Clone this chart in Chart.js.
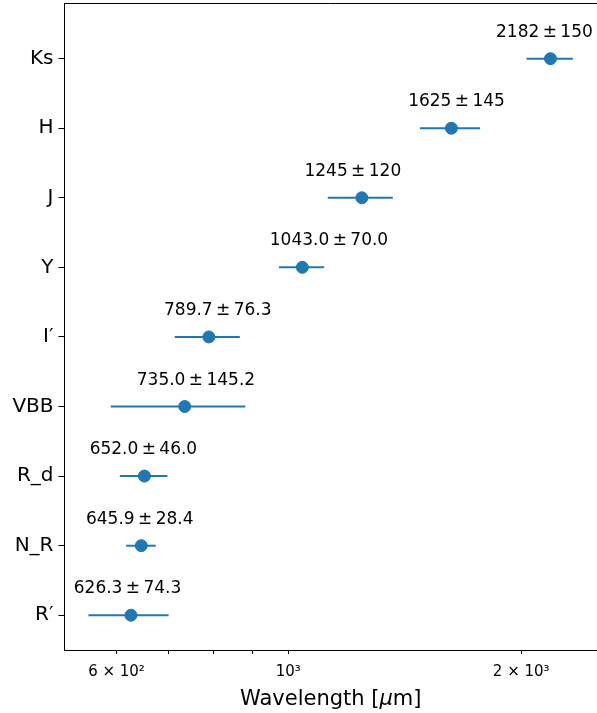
<!DOCTYPE html>
<html>
<head>
<meta charset="utf-8">
<script src="https://cdn.jsdelivr.net/npm/chart.js@4/dist/chart.umd.min.js"></script>
<style>
  html, body { margin: 0; padding: 0; background: #fff; }
  #wrap { width: 597px; height: 713px; }
</style>
</head>
<body>
<div id="wrap"><canvas id="chart" width="597" height="713"></canvas></div>
<script>
// Filters, bottom to top
const bands = ['R\u2032', 'N_R', 'R_d', 'VBB', 'I\u2032', 'Y', 'J', 'H', 'Ks'];
const wavelengths = [626.3, 645.9, 652.0, 735.0, 789.7, 1043.0, 1245, 1625, 2182];
const widths = [74.3, 28.4, 46.0, 145.2, 76.3, 70.0, 120, 145, 150];
const decimals = [1, 1, 1, 1, 1, 1, 0, 0, 0];
// wavelength where each value label is centred (as placed in the original)
const labelAt = [620, 643, 650, 760, 811, 1129, 1212, 1650, 2143];

// x axis ticks (log scale)
const xTicks = [600, 700, 800, 900, 1000, 2000];
const xTickLabels = { 600: '6 \u00d7 10\u00b2', 1000: '10\u00b3', 2000: '2 \u00d7 10\u00b3' };

const blue = '#1f77b4';
const FONT = "'DejaVu Sans', sans-serif";

// one small line dataset per error bar
const errorSets = wavelengths.map((w, i) => ({
    type: 'scatter',
    showLine: true,
    data: [{ x: w - widths[i], y: i }, { x: w + widths[i], y: i }],
    borderColor: blue,
    borderWidth: 2,
    pointRadius: 0,
    order: 2
}));

const pointSet = {
    type: 'scatter',
    data: wavelengths.map((w, i) => ({ x: w, y: i })),
    backgroundColor: blue,
    borderColor: blue,
    pointRadius: 6,
    pointHoverRadius: 6,
    order: 1
};

function noPad(axis) {
    axis.paddingTop = 0;
    axis.paddingBottom = 0;
    axis.paddingLeft = 0;
    axis.paddingRight = 0;
}

const annotations = {
    id: 'annotations',
    afterDatasetsDraw(chart) {
        const ctx = chart.ctx;
        const xs = chart.scales.x, ys = chart.scales.y;
        const area = chart.chartArea;
        ctx.save();
        // top spine
        ctx.strokeStyle = '#000';
        ctx.lineWidth = 1;
        ctx.beginPath();
        ctx.moveTo(area.left, area.top + 0.5);
        ctx.lineTo(area.right, area.top + 0.5);
        ctx.stroke();

        ctx.fillStyle = '#000';
        ctx.font = '17px ' + FONT;
        ctx.textAlign = 'center';
        ctx.textBaseline = 'alphabetic';
        wavelengths.forEach((w, i) => {
            const txt = w.toFixed(decimals[i]) + '\u2009\u00b1\u2009' + widths[i].toFixed(decimals[i]);
            ctx.fillText(txt, xs.getPixelForValue(labelAt[i]), ys.getPixelForValue(i) - 22);
        });

        // x axis title with italic mu
        const parts = [['Wavelength [', 'normal'], ['\u03bc', 'italic'], ['m]', 'normal']];
        ctx.textAlign = 'left';
        let total = 0;
        parts.forEach(p => { ctx.font = p[1] + ' 21px ' + FONT; total += ctx.measureText(p[0]).width; });
        let x = (area.left + area.right) / 2 - total / 2;
        parts.forEach(p => {
            ctx.font = p[1] + ' 21px ' + FONT;
            ctx.fillText(p[0], x, 705);
            x += ctx.measureText(p[0]).width;
        });
        ctx.restore();
    }
};

new Chart(document.getElementById('chart'), {
    data: { datasets: [pointSet, ...errorSets] },
    options: {
        responsive: false,
        animation: false,
        layout: { autoPadding: false, padding: { left: 0, top: 3, right: 0, bottom: 0 } },
        plugins: { legend: { display: false }, tooltip: { enabled: false } },
        scales: {
            x: {
                type: 'logarithmic',
                min: 514,
                max: 2506,
                afterBuildTicks: axis => { axis.ticks = xTicks.map(v => ({ value: v })); },
                afterFit: axis => { axis.height = 63; noPad(axis); },
                grid: { drawOnChartArea: false, drawTicks: true, tickLength: 4, color: '#000' },
                border: { display: true, color: '#000', width: 1 },
                ticks: {
                    autoSkip: false,
                    maxRotation: 0,
                    padding: 9,
                    color: '#000',
                    font: { family: FONT, size: 15 },
                    callback: v => xTickLabels[v] || ''
                }
            },
            y: {
                type: 'linear',
                min: -0.5,
                max: 8.8,
                afterBuildTicks: axis => { axis.ticks = bands.map((b, i) => ({ value: i })); },
                afterFit: axis => { axis.width = 64.5; noPad(axis); },
                grid: { drawOnChartArea: false, drawTicks: true, tickLength: 6, color: '#000' },
                border: { display: true, color: '#000', width: 1 },
                ticks: {
                    autoSkip: false,
                    padding: 5,
                    color: '#000',
                    font: { family: FONT, size: 20 },
                    callback: v => bands[v]
                }
            }
        }
    },
    plugins: [annotations]
});
</script>
</body>
</html>
